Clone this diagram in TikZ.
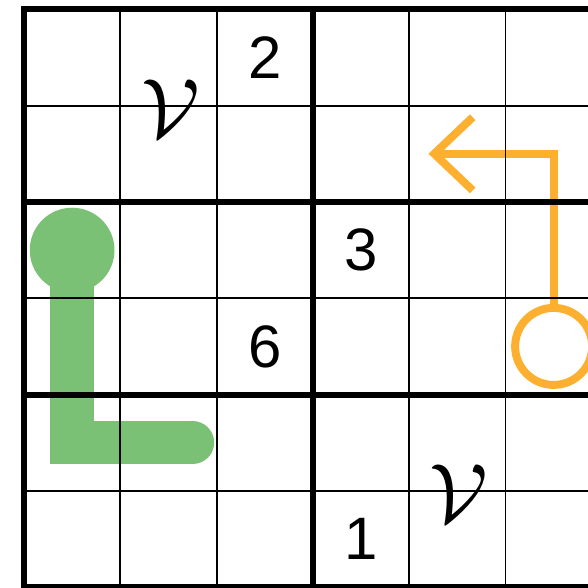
\documentclass[tikz,border=0pt]{standalone}
\usepackage{fontspec}
\setmainfont{Liberation Sans}
\usetikzlibrary{arrows.meta}
\definecolor{pathgreen}{RGB}{122,193,118}
\definecolor{pathorange}{RGB}{253,176,48}
\tikzset{
thinrule/.style={black,line width=0.55pt},
boxrule/.style={black,line width=1.75pt,line join=miter},
given/.style={font=\fontsize{17.7}{20}\selectfont,inner sep=0pt},
vmark/.style={font=\fontsize{25}{28}\selectfont,inner sep=0pt},
bulb/.style={circle,fill=pathgreen,minimum size=0.88cm,inner sep=0pt},
ring/.style={circle,draw=pathorange,line width=2.35pt,minimum size=0.8cm,inner sep=0pt},
greenline/.style={pathgreen,line width=0.45cm,line cap=round,line join=miter},
arrowline/.style={-{Straight Barb[length=0.4cm,width=0.76cm,sharp]},pathorange,line width=2.35pt,line join=miter}
}

\begin{document}
\begin{tikzpicture}
\useasboundingbox (-0.249,0.097) rectangle (5.857,-5.999);
% lines
\node[bulb] (bulb) at (0.5,-2.5) {};
\coordinate (gend) at (1.75,-4.5);
\draw[greenline] (bulb.center) |- (gend);
\node[ring] (ring) at (5.5,-3.5) {};
\coordinate (tip) at (4.2,-1.5);
\draw[arrowline] (ring.north) |- (tip);
% grid
\foreach \k in {1,2,4,5} \draw[thinrule] (\k,0) -- (\k,-6);
\foreach \k in {1,3,5} \draw[thinrule] (0,-\k) -- (6,-\k);
\draw[boxrule] (0,0) rectangle (6,-6);
\draw[boxrule] (3,0) -- (3,-6);
\foreach \k in {2,4} \draw[boxrule] (0,-\k) -- (6,-\k);
% givens
\node[given] (two) at (2.5,-0.5) {2};
\node[given] (three) at (3.5,-2.5) {3};
\node[given] (six) at (2.5,-3.5) {6};
\node[given] (one) at (3.5,-5.5) {1};
\node[vmark] (vtop) at (1.52,-1.03) {$\mathcal{V}$};
\node[vmark] (vbot) at (4.52,-5.03) {$\mathcal{V}$};
\end{tikzpicture}
\end{document}
